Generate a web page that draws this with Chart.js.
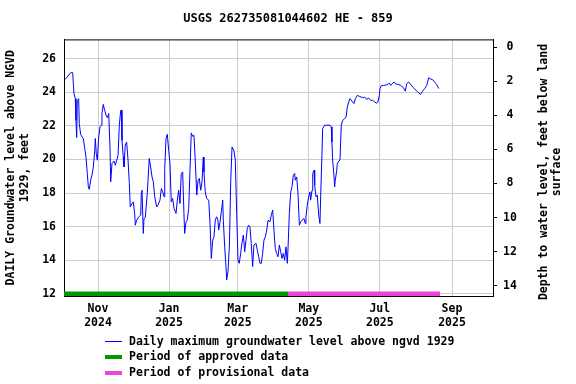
<!DOCTYPE html>
<html>
<head>
<meta charset="utf-8">
<script src="https://cdn.jsdelivr.net/npm/chart.js@4"></script>
<style>
  body { margin: 0; background: #fff; }
  #wrap { position: relative; width: 576px; height: 384px; font-family: 'DejaVu Sans Mono', monospace; font-weight: bold; font-size: 11.5px; color: #000; }
  #rightTitle { position: absolute; left: 401px; top: 158px; width: 300px; height: 28px; line-height: 13px; text-align: center; transform: rotate(-90deg); transform-origin: center; }
  .leg { position: absolute; left: 105px; height: 16px; line-height: 16px; white-space: pre; }
  .leg span.key { display: inline-block; width: 17px; vertical-align: middle; margin-right: 7px; }
</style>
</head>
<body>
<div id="wrap">
  <canvas id="myChart" width="576" height="384"></canvas>
  <div id="rightTitle">Depth to water level, feet below land<br>surface</div>
  <div class="leg" style="top:333px"><span class="key" style="height:1px;background:#0000ff"></span>Daily maximum groundwater level above ngvd 1929</div>
  <div class="leg" style="top:348px"><span class="key" style="height:4px;background:#009900"></span>Period of approved data</div>
  <div class="leg" style="top:364px"><span class="key" style="height:4px;background:#ee44dd"></span>Period of provisional data</div>
</div>
<script>
// x values are days after 2024-10-01
const days = [
  2.4, 4.1, 5.8, 7.6, 9.3, 9.8, 10.4, 11.5, 12.1, 12.7,
  13.2, 14.4, 14.9, 16.1, 17.3, 18.4, 19.6, 20.7, 21.8, 22.7,
  23.5, 24.7, 25.8, 27.0, 28.2, 28.7, 29.5, 30.4, 31.6, 32.7,
  33.8, 34.4, 35.5, 36.7, 37.9, 39.0, 40.2, 41.3, 41.9, 43.0,
  44.7, 45.9, 47.1, 48.2, 49.3, 50.5, 51.0, 51.6, 52.7, 53.3,
  54.4, 55.6, 56.8, 57.9, 58.7, 60.2, 61.3, 62.5, 63.0, 64.2,
  66.0, 67.7, 68.2, 68.8, 69.9, 70.5, 71.6, 73.3, 75.0, 76.2,
  77.4, 78.5, 79.7, 81.4, 82.5, 84.2, 85.4, 86.6, 87.7, 88.3,
  89.4, 90.5, 91.7, 92.8, 93.9, 95.1, 96.3, 98.0, 99.1, 100.3,
  101.4, 102.5, 103.7, 104.8, 105.4, 106.6, 107.7, 108.9, 110.0, 111.1,
  112.3, 113.4, 114.5, 115.8, 116.9, 118.0, 119.2, 120.3, 121.4, 122.0,
  123.1, 124.3, 126.1, 127.2, 128.3, 129.5, 130.6, 131.7, 132.9, 134.0,
  134.6, 135.8, 136.9, 138.1, 138.6, 139.8, 140.9, 141.5, 142.6, 143.8,
  145.0, 146.1, 147.8, 148.9, 150.1, 151.2, 152.3, 153.5, 154.6, 155.8,
  157.0, 158.1, 159.2, 160.4, 161.5, 162.6, 163.8, 164.9, 166.7, 167.8,
  169.0, 170.1, 171.2, 172.4, 173.5, 174.7, 175.9, 177.0, 178.7, 179.8,
  181.0, 182.1, 183.2, 184.4, 185.6, 186.7, 187.9, 189.0, 190.1, 191.3,
  192.4, 193.6, 194.2, 195.3, 196.5, 197.6, 198.7, 199.9, 200.4, 201.6,
  202.7, 203.9, 205.1, 206.2, 207.9, 209.0, 209.6, 210.7, 211.9, 213.0,
  213.6, 214.8, 215.4, 216.5, 217.1, 218.2, 219.3, 220.5, 221.6, 222.2,
  223.3, 223.9, 225.7, 230.2, 231.3, 231.9, 232.5, 233.6, 234.2, 234.8,
  236.0, 236.5, 237.7, 238.8, 239.9, 241.1, 242.8, 244.0, 245.1, 246.3,
  247.4, 249.7, 250.8, 252.0, 253.7, 255.4, 257.1, 258.8, 260.0, 261.7,
  263.4, 265.2, 266.9, 268.6, 270.3, 271.4, 272.6, 273.2, 274.3, 276.0,
  278.3, 280.0, 281.1, 282.3, 283.5, 285.2, 286.3, 288.6, 290.9, 293.2,
  294.9, 296.1, 297.8, 299.5, 301.8, 304.1, 306.4, 308.1, 309.8, 311.5,
  313.3, 315.0, 316.7, 318.4, 320.1, 321.8, 323.6
];
const levels = [
  24.75, 24.87, 25.03, 25.17, 25.17, 24.51, 23.92, 23.62, 22.33, 21.31,
  23.52, 23.62, 22.14, 21.50, 21.34, 21.25, 20.65, 20.15, 19.16, 18.37,
  18.22, 18.77, 19.07, 19.56, 20.55, 21.25, 20.35, 19.96, 21.34, 21.94,
  22.04, 22.73, 23.28, 22.93, 22.63, 22.49, 22.73, 20.75, 18.67, 19.76,
  19.91, 19.66, 19.96, 20.25, 22.04, 22.93, 22.93, 21.14, 20.15, 19.56,
  20.85, 21.04, 19.96, 18.57, 17.18, 17.38, 17.48, 16.79, 16.09, 16.39,
  16.59, 16.69, 17.98, 18.17, 15.60, 16.49, 16.55, 17.98, 20.06, 19.56,
  18.96, 18.67, 17.78, 17.18, 17.28, 17.58, 18.27, 18.07, 17.78, 19.46,
  21.25, 21.50, 20.55, 19.76, 17.48, 17.68, 17.09, 16.79, 17.58, 18.17,
  17.38, 19.17, 19.26, 16.79, 15.60, 16.29, 16.39, 17.09, 19.36, 21.58,
  21.38, 21.44, 19.96, 17.88, 18.77, 18.87, 18.17, 18.67, 20.15, 19.26,
  18.07, 17.68, 17.58, 16.19, 14.11, 15.20, 15.40, 16.39, 16.59, 16.39,
  15.80, 16.29, 16.89, 17.58, 16.39, 14.80, 13.62, 12.83, 13.32, 14.80,
  18.77, 20.75, 20.51, 19.96, 16.79, 14.01, 13.82, 14.41, 15.01, 15.50,
  14.51, 15.20, 15.90, 16.09, 15.99, 15.01, 13.62, 14.91, 15.01, 14.61,
  14.21, 13.82, 13.82, 14.41, 15.20, 15.40, 15.80, 16.39, 16.29, 16.69,
  16.99, 15.80, 14.71, 14.41, 14.21, 14.91, 14.51, 14.11, 14.41, 14.01,
  14.80, 13.82, 14.77, 16.79, 18.07, 18.37, 19.06, 19.17, 18.77, 18.96,
  18.07, 16.09, 16.29, 16.39, 16.49, 16.19, 16.59, 17.28, 17.78, 18.07,
  17.58, 18.17, 19.17, 19.36, 18.47, 17.78, 17.88, 16.69, 16.19, 17.78,
  20.25, 21.84, 22.04, 22.04, 21.94, 21.04, 19.96, 19.07, 18.37, 18.77,
  19.36, 19.76, 19.91, 19.96, 22.04, 22.33, 22.43, 22.53, 23.12, 23.42,
  23.62, 23.42, 23.33, 23.62, 23.82, 23.76, 23.72, 23.68, 23.72, 23.58,
  23.66, 23.52, 23.52, 23.42, 23.36, 23.42, 23.82, 24.22, 24.41, 24.41,
  24.43, 24.47, 24.55, 24.41, 24.51, 24.61, 24.51, 24.47, 24.41, 24.28,
  24.07, 24.51, 24.61, 24.47, 24.28, 24.12, 23.96, 23.88, 24.07, 24.22,
  24.41, 24.87, 24.79, 24.75, 24.61, 24.47, 24.22
];

const periodNames = ['Period of approved data', 'Period of provisional data'];
const periodStart = [0.1, 194.2];
const periodEnd = [194.2, 324.7];
const periodColors = ['#009900', '#ee44dd'];

const monthTicks = [31, 92, 151, 212, 273, 335];
const monthLabels = [['Nov', '2024'], ['Jan', '2025'], ['Mar', '2025'], ['May', '2025'], ['Jul', '2025'], ['Sep', '2025']];
const levelTicks = [12, 14, 16, 18, 20, 22, 24, 26];
const depthTicks = [0, 2, 4, 6, 8, 10, 12, 14];

Chart.defaults.font.family = "'DejaVu Sans Mono', monospace";
Chart.defaults.font.weight = 'bold';
Chart.defaults.color = '#000';

const topBorder = {
  id: 'topBorder',
  afterDraw: (chart) => {
    const {ctx, chartArea} = chart;
    ctx.save();
    ctx.strokeStyle = '#000';
    ctx.lineWidth = 1;
    ctx.beginPath();
    ctx.moveTo(chartArea.left, chartArea.top + 0.5);
    ctx.lineTo(chartArea.right, chartArea.top + 0.5);
    ctx.stroke();
    ctx.restore();
  }
};

const periodSets = periodNames.map((name, i) => ({
  label: name,
  data: [{x: periodStart[i], y: 12}, {x: periodEnd[i], y: 12}],
  borderColor: periodColors[i],
  borderWidth: 5,
  pointRadius: 0
}));

const ctx = document.getElementById('myChart').getContext('2d');
const chart = new Chart(ctx, {
  type: 'line',
  data: {
    datasets: [{
      label: 'Daily maximum groundwater level above ngvd 1929',
      data: days.map((d, i) => ({x: d, y: levels[i]})),
      borderColor: '#0000ff',
      borderWidth: 1,
      pointRadius: 0,
      tension: 0
    }, ...periodSets]
  },
  options: {
    responsive: false,
    animation: false,
    devicePixelRatio: 1,
    layout: {padding: 0},
    plugins: {
      legend: {display: false},
      tooltip: {enabled: false},
      title: {
        display: true,
        text: 'USGS 262735081044602 HE - 859',
        font: {size: 12, weight: 'bold'},
        padding: {top: 12, bottom: 13}
      }
    },
    scales: {
      x: {
        type: 'linear',
        min: 1.8,
        max: 370.2,
        afterBuildTicks: (scale) => { scale.ticks = monthTicks.map((v) => ({value: v})); },
        afterFit: (scale) => { scale.height = 88; },
        ticks: {
          autoSkip: false,
          maxRotation: 0,
          padding: 6,
          font: {size: 11.5, lineHeight: '14px'},
          callback: (value, index) => monthLabels[index]
        },
        grid: {color: '#cccccc', drawTicks: false},
        border: {color: '#000', width: 1}
      },
      y: {
        type: 'linear',
        position: 'left',
        min: 11.875,
        max: 27.15,
        afterBuildTicks: (scale) => { scale.ticks = levelTicks.map((v) => ({value: v})); },
        afterFit: (scale) => { scale.width = 64; },
        ticks: {padding: 8, font: {size: 11.5}},
        grid: {color: '#cccccc', drawTicks: false},
        border: {color: '#000', width: 1},
        title: {
          display: true,
          text: ['DAILY Groundwater level above NGVD', '1929, feet'],
          font: {size: 11.5, lineHeight: '14px'},
          padding: {top: 4}
        }
      },
      y2: {
        type: 'linear',
        position: 'right',
        reverse: true,
        min: -0.45,
        max: 14.6,
        afterBuildTicks: (scale) => { scale.ticks = depthTicks.map((v) => ({value: v})); },
        afterFit: (scale) => { scale.width = 83; },
        ticks: {padding: 6, crossAlign: 'center', font: {size: 11.5}},
        grid: {drawOnChartArea: false, color: '#000', tickLength: 4},
        border: {color: '#000', width: 1}
      }
    }
  },
  plugins: [topBorder]
});
</script>
</body>
</html>
